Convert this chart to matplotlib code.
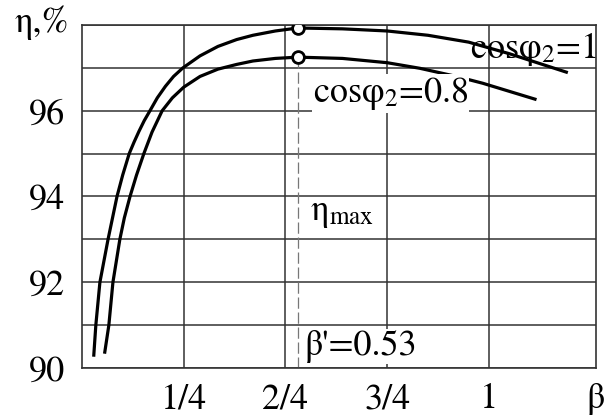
import matplotlib
matplotlib.use("Agg")
import matplotlib.pyplot as plt
from matplotlib.ticker import MultipleLocator

# --- Data ---
beta_cos1 = [0.029, 0.034, 0.044, 0.064, 0.075, 0.086, 0.100, 0.116, 0.128, 0.140,
             0.153, 0.167, 0.185, 0.205, 0.225, 0.248, 0.290, 0.334, 0.380, 0.420,
             0.475, 0.530, 0.640, 0.750, 0.850, 0.950, 1.050, 1.190]
eta_cos1 = [90.3, 91.0, 92.0, 93.0, 93.5, 94.0, 94.5, 95.0, 95.27, 95.52,
            95.77, 96.0, 96.3, 96.57, 96.8, 97.0, 97.28, 97.5, 97.66, 97.76,
            97.86, 97.93, 97.91, 97.86, 97.76, 97.6, 97.33, 96.9]

beta_cos08 = [0.056, 0.066, 0.076, 0.093, 0.104, 0.118, 0.134, 0.152, 0.172, 0.197,
              0.222, 0.250, 0.290, 0.334, 0.380, 0.420, 0.475, 0.530, 0.640, 0.750,
              0.830, 0.920, 0.985, 1.113]
eta_cos08 = [90.37, 91.0, 92.0, 93.0, 93.5, 94.0, 94.5, 95.0, 95.5, 96.0,
             96.3, 96.55, 96.8, 96.97, 97.08, 97.16, 97.22, 97.25, 97.22, 97.12,
             96.99, 96.8, 96.64, 96.27]

beta_opt = 0.53
eta_max = [97.93, 97.25]

x_ticks = [0.25, 0.5, 0.75, 1.0]
x_labels = ["1/4", "2/4", "3/4", "1"]
y_ticks = [90, 92, 94, 96]

# --- Style ---
plt.rcParams["font.family"] = ["STIXGeneral", "DejaVu Serif"]
plt.rcParams["mathtext.fontset"] = "stix"
FS = 26
GRID = "#333333"

fig = plt.figure(figsize=(6.11, 4.15), dpi=100)
ax = fig.add_axes([0.1342, 0.1133, 0.8413, 0.8265])

ax.set_xlim(0, 1.263)
ax.set_ylim(90, 98)

ax.set_xticks(x_ticks)
ax.set_xticklabels(x_labels)
ax.set_yticks(y_ticks)
ax.yaxis.set_minor_locator(MultipleLocator(1))
ax.tick_params(which="both", length=0, labelsize=FS)
ax.tick_params(axis="x", pad=11)
ax.tick_params(axis="y", pad=12)
ax.set_axisbelow(True)
ax.grid(True, which="both", color=GRID, lw=1.1)
for s in ax.spines.values():
    s.set_color(GRID)
    s.set_linewidth(1.2)

# curves
ax.plot(beta_cos1, eta_cos1, color="black", lw=2.3, zorder=3)
ax.plot(beta_cos08, eta_cos08, color="black", lw=2.3, zorder=3)

# beta' marker line + max points
ax.plot([beta_opt, beta_opt], [eta_max[1], 90], color="#777777", lw=0.9,
        dashes=(9, 3), zorder=2)
ax.plot([beta_opt] * 2, eta_max, "o", ms=8.5, mfc="white", mec="black",
        mew=2, ls="none", zorder=5)

box = dict(facecolor="white", edgecolor="none", pad=0.5)
ax.text(0.953, 97.23, "cosφ$_2$=1", fontsize=FS, va="baseline", ha="left",
        zorder=4)
ax.text(0.568, 96.2, "cosφ$_2$=0.8", fontsize=FS, va="baseline", ha="left",
        bbox=box, zorder=4)
ax.text(0.56, 93.45, r"η$_{\mathrm{max}}$", fontsize=FS, va="baseline", ha="left",
        zorder=4)
ax.text(0.548, 90.30, "β'=0.53", fontsize=FS, va="baseline", ha="left",
        bbox=box, zorder=4)

# axis names
fig.text(0.113, 0.923, "η,%", fontsize=FS, ha="right", va="baseline")
ax.annotate("β", xy=(1, 0), xycoords="axes fraction", xytext=(0, -11),
            textcoords="offset points", ha="center", va="top", fontsize=FS)

fig.savefig("out.png", dpi=100)
